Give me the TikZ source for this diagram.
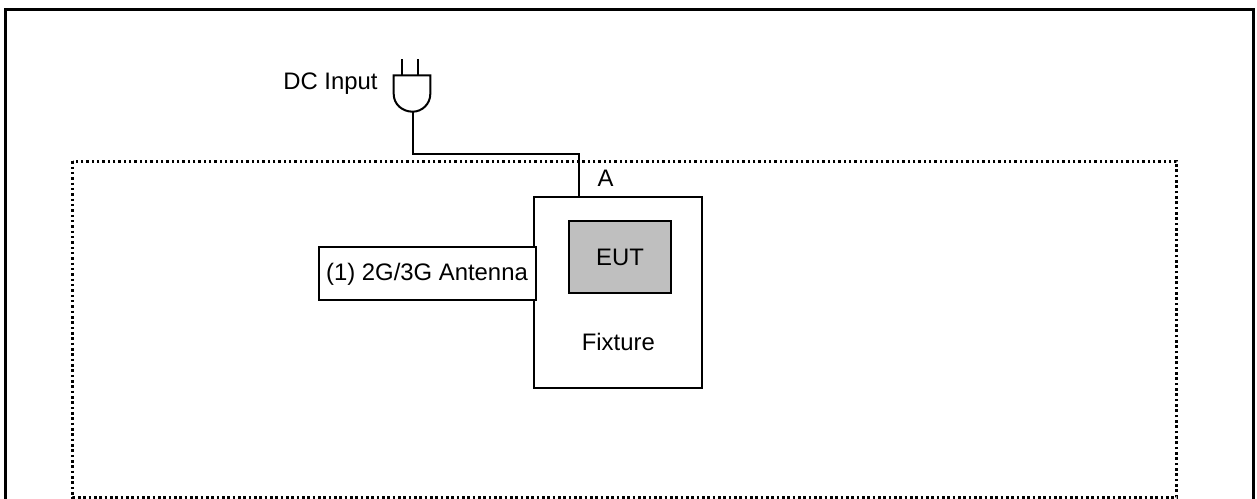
\documentclass[tikz,border=0pt]{standalone}
\usepackage{fontspec}
\setmainfont{Liberation Sans}
\tikzset{
  box/.style={draw=black,line width=1.5pt,inner sep=0pt,outer sep=0pt,anchor=north west},
  lbl/.style={inner sep=0pt,font=\fontsize{17.9}{20}\selectfont,text=black},
  wire/.style={draw=black,line width=1.5pt,line cap=butt,line join=miter}
}
\begin{document}
\begin{tikzpicture}[x=0.75pt,y=-0.75pt]
\useasboundingbox (0,0) rectangle (1257,499);
\fill[white] (0,0) rectangle (1257,499);
% outer frame, open at the bottom
\draw[line width=2.25pt] (5.5,499) -- (5.5,9.5) -- (1253.5,9.5) -- (1253.5,499);
% dotted enclosure
\coordinate (d1) at (72.7,161.3);
\coordinate (d2) at (1176.7,497.3);
\draw[line width=1.85pt,dash pattern=on 1.9pt off 2.1pt] (d1) rectangle (d2);
% boxes
\node[box,minimum width=126pt,minimum height=142.9pt] (fixture) at (533.7,197.5) {};
\node[box,fill=black!25,minimum width=76.7pt,minimum height=54.4pt] (eut) at (568.7,220.7) {};
\node[box,fill=white,minimum width=162.7pt,minimum height=39.5pt] (ant) at (318.7,247.3) {};
\node[lbl] (eutl) at (620,257) {EUT};
\node[lbl] (fixl) at (618.3,342) {Fixture};
\node[lbl] (antl) at (427,274.5) {(1) 2G/3G Antenna};
\node[lbl] (al) at (605.7,178.5) {A};
\node[lbl] (dcl) at (330.5,84) {DC Input};
% plug
\coordinate (plugb) at (412.7,111.7);
\coordinate (p1) at (402,59.3);
\coordinate (p1b) at (402,75.3);
\coordinate (p2) at (417.7,59.3);
\coordinate (p2b) at (417.7,75.3);
\draw[wire] (393.7,75.3) -- (430.3,75.3) -- (430.3,94)
  .. controls (430.3,104) and (422,111.7) .. (plugb)
  .. controls (402,111.7) and (393.7,104) .. (393.7,94) -- cycle;
\draw[wire] (p1) -- (p1b);
\draw[wire] (p2) -- (p2b);
% cable
\coordinate (w1) at (412.7,154.3);
\coordinate (w2) at (579.3,154.3);
\draw[wire] (plugb) -- (w1) -- (w2) -- (w2 |- fixture.north);
\end{tikzpicture}
\end{document}
